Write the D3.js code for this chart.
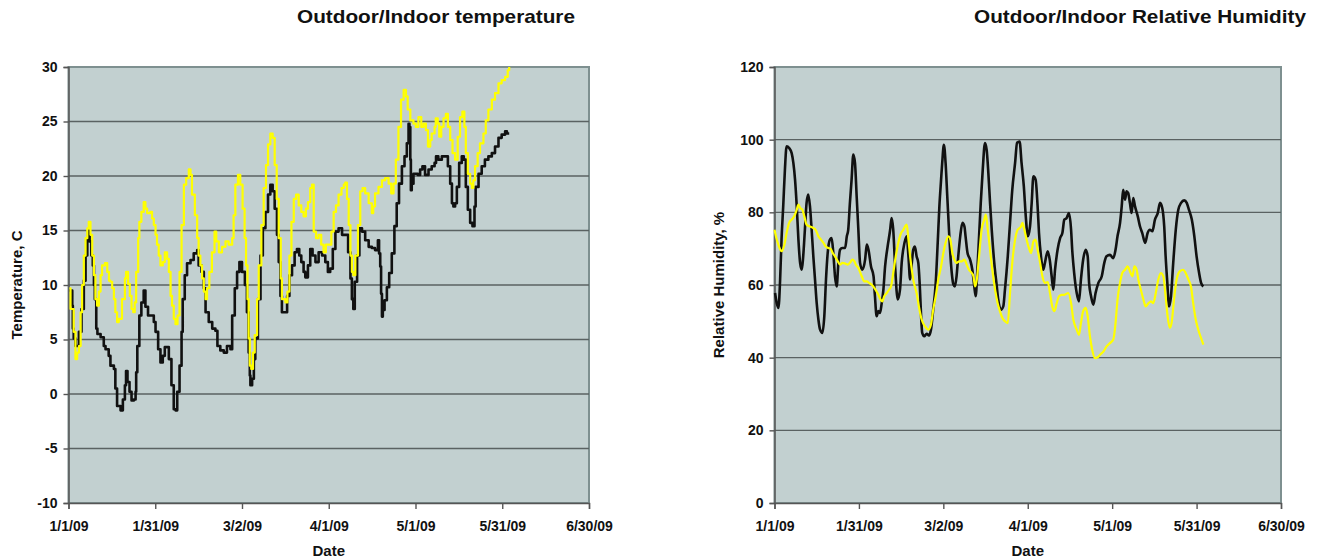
<!DOCTYPE html>
<html>
<head>
<meta charset="utf-8">
<script src="https://cdn.jsdelivr.net/npm/d3@7"></script>
<style>
  body { margin: 0; background: #fff; }
  svg text { font-family: "Liberation Sans", Arial, sans-serif; font-weight: bold; fill: #111; }
</style>
</head>
<body>
<script>
const [W, H] = [1319, 560];

// x ticks: days since 1/1/09
const dateTicks = [0, 30, 60, 90, 120, 150, 180];
const dateLabels = ['1/1/09', '1/31/09', '3/2/09', '4/1/09', '5/1/09', '5/31/09', '6/30/09'];
const tempTicks = [-10, -5, 0, 5, 10, 15, 20, 25, 30];
const rhTicks = [0, 20, 40, 60, 80, 100, 120];

// [day, value]
const tempOutdoor = [[0.3,9.5],[1.3,8.1],[1.5,6.0],[1.8,5.1],[2.4,4.4],[3.0,4.4],[3.6,5.7],[4.5,7.8],[5.3,10.4],[5.9,12.7],[6.5,14.3],[6.8,15.0],[7.3,14.0],[7.9,12.7],[8.4,11.8],[8.8,10.0],[9.1,8.7],[9.6,6.0],[10.0,5.5],[11.1,5.2],[12.2,4.4],[12.8,4.1],[13.9,3.5],[14.5,2.6],[15.7,2.3],[16.2,0.5],[16.8,-1.1],[18.0,-1.5],[18.8,-0.5],[19.5,0.8],[19.9,2.1],[20.4,1.1],[21.1,0.2],[21.8,-0.6],[22.6,-0.5],[23.2,0.2],[23.4,2.0],[23.8,4.4],[24.5,7.2],[25.2,8.4],[26.0,9.5],[26.6,8.0],[27.5,7.2],[28.7,7.2],[29.5,6.6],[30.1,5.7],[31.0,4.1],[31.8,2.9],[32.6,3.5],[33.3,4.3],[34.1,4.3],[34.7,3.2],[35.6,0.8],[36.4,-1.4],[37.0,-1.5],[37.6,0.2],[38.4,2.6],[39.1,5.7],[39.5,8.7],[40.2,10.9],[41.0,12.0],[42.2,12.3],[43.3,12.9],[44.5,13.2],[45.0,11.8],[46.0,11.2],[46.8,9.7],[47.4,7.5],[48.5,6.6],[49.7,6.0],[50.8,5.8],[51.5,4.4],[52.5,4.0],[53.7,3.8],[54.8,4.4],[56.0,4.1],[56.6,7.2],[57.5,9.7],[58.3,11.2],[59.1,12.1],[60.0,11.2],[61.0,10.0],[61.7,7.5],[62.3,3.8],[62.7,1.7],[62.9,0.8],[63.5,1.4],[64.1,3.2],[64.6,5.1],[65.5,8.7],[66.4,12.7],[67.2,15.2],[68.1,16.7],[69.0,18.3],[69.8,19.2],[70.6,18.6],[71.3,17.0],[72.1,14.6],[72.7,12.1],[73.3,9.0],[73.8,7.5],[74.8,7.5],[75.6,9.0],[76.4,10.9],[77.3,11.8],[78.2,13.0],[79.0,13.3],[79.8,12.7],[80.5,12.1],[81.3,11.2],[81.9,10.7],[82.8,11.8],[83.6,13.3],[84.4,12.7],[85.4,12.1],[86.5,13.0],[87.7,12.7],[88.8,12.1],[89.7,11.2],[90.5,11.5],[91.4,13.3],[92.3,14.9],[93.4,15.2],[94.6,14.6],[95.7,14.6],[96.7,13.0],[97.5,10.6],[98.0,8.7],[98.5,7.8],[99.0,10.3],[99.8,12.7],[100.6,15.2],[101.5,14.9],[102.6,14.1],[103.8,13.5],[104.9,13.4],[106.0,13.2],[107.0,14.1],[107.4,12.9],[107.8,11.7],[108.1,9.2],[108.4,7.1],[108.7,7.7],[109.3,8.6],[110.1,9.8],[110.9,11.1],[111.8,12.9],[112.7,15.4],[113.5,17.5],[114.3,19.3],[115.3,20.9],[116.2,21.8],[117.0,23.0],[117.6,24.8],[117.9,24.5],[118.2,21.5],[118.4,18.7],[118.7,19.3],[119.3,20.2],[120.8,20.1],[121.6,20.6],[122.4,20.9],[123.3,20.1],[124.5,20.6],[125.6,20.9],[126.6,21.2],[127.1,21.8],[127.9,21.5],[129.1,21.8],[130.2,21.8],[131.2,20.9],[132.0,19.3],[132.6,17.5],[133.1,17.2],[133.7,17.5],[134.3,19.0],[135.1,21.2],[136.0,21.8],[136.7,21.5],[137.4,19.0],[138.1,16.9],[138.9,15.7],[139.7,15.4],[140.4,17.2],[140.8,19.0],[141.8,20.2],[142.9,20.9],[144.0,21.5],[145.2,21.8],[146.4,22.1],[147.5,22.7],[148.7,23.5],[149.8,23.8],[151.0,24.1],[151.6,23.9],[152.4,23.9]];

const tempIndoor = [[0.3,9.7],[0.7,7.8],[1.8,5.7],[2.4,3.2],[3.0,3.8],[3.6,4.4],[4.2,7.5],[4.7,10.0],[5.3,12.7],[5.9,14.3],[6.5,15.2],[7.0,15.8],[7.6,14.6],[8.2,12.7],[8.8,10.9],[9.3,8.7],[9.9,8.1],[10.5,9.4],[11.1,10.9],[11.6,11.8],[12.6,12.0],[13.4,11.2],[14.0,10.4],[14.5,10.3],[15.1,9.7],[15.7,8.7],[16.2,7.5],[16.8,6.6],[17.4,6.9],[18.5,8.7],[19.5,10.6],[19.9,11.2],[20.6,10.1],[21.2,9.0],[21.8,7.8],[22.4,7.5],[22.9,8.4],[23.4,11.2],[24.1,14.3],[24.5,15.8],[25.2,16.7],[26.0,17.6],[26.6,17.0],[27.2,16.6],[27.8,16.6],[28.3,16.7],[28.9,16.1],[29.5,15.5],[30.1,14.6],[30.6,13.7],[31.2,12.7],[31.8,11.8],[32.6,12.1],[33.3,13.0],[34.1,12.4],[34.7,11.2],[35.3,9.0],[35.8,8.1],[36.4,6.9],[37.0,6.4],[37.7,7.2],[38.4,11.2],[39.1,15.5],[39.9,19.2],[40.7,19.8],[41.6,20.6],[42.2,20.1],[42.7,18.3],[43.7,16.4],[44.5,14.3],[45.0,12.7],[45.6,11.8],[46.2,10.6],[46.8,9.4],[47.4,8.7],[47.9,9.7],[48.7,11.2],[49.6,13.0],[50.5,14.9],[51.1,14.0],[52.0,13.0],[53.1,13.5],[54.3,14.0],[55.4,13.7],[56.6,14.3],[57.1,16.4],[57.7,19.2],[58.6,20.1],[59.4,19.2],[60.2,17.0],[60.9,14.3],[61.4,11.8],[61.9,8.7],[62.3,5.1],[62.7,2.6],[63.2,2.3],[63.8,3.8],[64.4,5.4],[65.2,8.7],[65.8,11.8],[66.7,15.5],[67.5,18.9],[68.3,21.0],[69.0,22.9],[69.8,23.9],[70.6,23.5],[71.3,21.0],[72.0,17.9],[72.7,14.3],[73.4,10.6],[73.8,8.7],[75.0,8.4],[75.7,9.4],[76.4,12.7],[77.1,15.8],[77.9,17.9],[78.7,18.3],[79.6,17.3],[80.5,16.7],[81.3,16.3],[82.1,17.0],[82.8,17.6],[83.6,18.9],[84.2,19.2],[84.8,14.9],[85.6,14.3],[86.5,14.6],[87.4,13.7],[88.2,13.0],[89.0,13.7],[89.9,13.7],[90.9,14.9],[91.7,16.7],[92.5,17.3],[93.4,18.3],[94.4,18.9],[95.2,19.2],[95.7,19.4],[96.3,17.9],[96.9,15.5],[97.5,12.7],[98.0,11.2],[98.5,10.9],[99.2,12.7],[100.1,15.5],[100.9,18.6],[101.7,18.9],[102.6,18.4],[103.8,17.5],[104.9,16.6],[105.4,17.2],[106.0,18.4],[107.2,19.0],[108.4,19.6],[109.5,19.8],[110.7,19.3],[111.6,18.4],[112.4,19.3],[113.2,21.5],[114.1,24.5],[115.0,27.0],[115.9,27.9],[116.7,27.3],[117.3,26.1],[118.2,25.1],[119.3,24.8],[120.1,24.5],[121.0,25.4],[122.0,24.5],[122.8,24.8],[123.6,24.2],[124.3,22.7],[125.1,23.3],[125.6,23.9],[126.6,24.5],[127.0,25.3],[127.7,24.8],[128.2,23.6],[128.9,24.5],[129.7,25.3],[130.5,25.7],[131.2,24.5],[132.0,23.3],[132.8,22.1],[133.7,21.5],[134.6,23.6],[135.4,25.4],[136.2,25.9],[136.9,24.5],[137.4,22.1],[138.1,20.2],[138.9,19.3],[139.5,18.9],[140.0,19.6],[140.6,20.9],[141.5,22.1],[142.3,23.0],[143.5,23.9],[144.3,25.1],[145.2,26.1],[146.4,27.0],[147.5,27.6],[148.7,28.5],[149.8,28.8],[151.0,29.1],[151.9,29.7],[152.4,30.0]];

const rhOutdoor = [[0.2,57.8],[0.8,55.0],[1.4,53.7],[2.0,61.5],[2.5,72.5],[3.1,81.7],[3.7,91.7],[4.3,98.2],[5.2,97.7],[6.1,96.3],[6.7,93.6],[7.3,89.0],[7.9,81.7],[8.5,72.5],[9.1,66.1],[9.7,64.2],[10.2,67.9],[10.8,75.2],[11.4,82.6],[12.0,84.9],[12.6,81.7],[13.2,75.2],[13.8,67.9],[14.4,61.5],[15.0,55.0],[15.6,50.5],[16.2,47.7],[17.0,46.8],[17.7,51.4],[18.3,61.5],[18.9,68.8],[19.7,72.5],[20.3,72.9],[20.9,68.8],[21.5,62.4],[22.1,59.6],[22.7,66.1],[23.3,69.7],[24.1,70.2],[25.1,70.2],[25.7,73.4],[26.2,75.2],[26.8,82.6],[27.4,89.0],[28.0,95.9],[28.6,93.6],[29.2,84.4],[29.8,75.2],[30.4,66.1],[31.2,64.2],[32.2,67.0],[32.8,71.1],[33.4,69.7],[34.3,65.1],[35.2,62.4],[35.7,56.9],[36.3,51.4],[36.9,52.8],[37.5,52.3],[38.1,55.0],[38.7,58.7],[39.3,65.1],[40.2,70.6],[41.1,75.2],[41.6,78.4],[42.2,75.2],[42.8,66.1],[43.8,56.0],[44.6,58.7],[45.2,66.1],[46.2,71.6],[47.0,73.4],[47.6,67.9],[48.2,61.5],[48.8,66.1],[49.3,69.7],[49.9,70.6],[50.5,67.9],[51.1,66.1],[51.7,58.7],[52.1,51.4],[52.5,46.8],[53.2,45.9],[54.1,46.6],[54.9,46.1],[55.6,47.7],[56.4,53.2],[57.3,60.6],[58.0,71.6],[58.6,81.7],[59.2,89.0],[59.6,93.6],[60.2,98.6],[60.8,93.6],[61.4,84.4],[62.0,75.2],[62.7,66.1],[63.6,60.1],[64.1,59.6],[64.7,62.4],[65.3,67.9],[66.0,73.4],[66.8,77.1],[67.5,76.1],[67.9,73.4],[68.6,68.8],[69.5,67.0],[70.3,64.2],[71.0,59.6],[71.5,56.9],[72.1,64.2],[72.7,73.4],[73.3,82.6],[74.0,91.7],[74.8,99.1],[75.4,97.2],[76.0,90.8],[76.6,82.6],[77.2,75.2],[78.1,66.1],[79.0,59.6],[79.5,56.0],[80.5,53.2],[81.3,54.1],[81.9,58.7],[82.9,67.9],[83.7,77.1],[84.5,86.2],[85.5,93.6],[86.2,99.1],[87.1,99.5],[87.8,93.6],[88.6,87.2],[89.3,78.9],[90.0,73.4],[90.8,76.1],[91.4,82.6],[92.0,89.9],[92.8,89.0],[93.5,81.7],[94.0,74.3],[94.7,67.9],[95.5,64.2],[96.1,66.1],[97.1,69.3],[97.8,67.0],[98.5,62.4],[99.1,58.7],[99.7,64.2],[100.6,69.7],[101.5,72.9],[102.3,74.3],[103.0,78.0],[103.8,78.4],[104.6,79.8],[105.4,75.2],[105.8,69.7],[106.5,63.3],[107.4,57.8],[108.2,55.5],[108.9,61.5],[109.7,67.0],[110.6,69.7],[111.3,67.9],[111.8,60.6],[112.5,56.9],[113.3,54.6],[114.1,57.8],[115.1,60.6],[116.3,62.4],[117.2,66.1],[118.0,67.9],[119.2,68.3],[120.4,67.4],[121.2,69.7],[121.9,73.4],[122.8,77.1],[123.4,81.7],[123.9,86.2],[124.6,83.5],[125.1,85.8],[125.7,85.3],[126.3,82.6],[126.9,79.8],[127.5,83.9],[128.1,81.7],[129.1,78.9],[129.9,76.1],[130.7,74.3],[131.7,71.6],[132.6,74.3],[133.4,75.2],[134.3,74.8],[135.2,78.0],[136.2,79.8],[137.0,82.6],[137.8,81.2],[138.5,76.1],[139.0,67.9],[139.6,60.6],[140.2,54.1],[140.9,56.9],[141.7,66.1],[142.6,75.2],[143.5,80.7],[144.5,82.6],[145.6,83.3],[146.5,82.6],[147.3,80.7],[148.3,78.0],[149.2,73.4],[150.0,67.9],[150.9,63.3],[151.6,60.6],[152.4,59.6]];

const rhIndoor = [[0,75.2],[0.8,72.5],[1.6,70.6],[2.5,69.3],[3.5,71.1],[4.3,74.3],[5.2,77.1],[6.1,78.0],[7.0,78.9],[7.9,80.7],[8.5,82.1],[9.1,81.2],[9.9,80.7],[10.6,78.9],[11.4,76.6],[12.6,76.1],[13.8,75.7],[14.6,75.2],[15.6,73.4],[16.5,72.5],[17.4,71.6],[18.2,70.6],[19.1,70.2],[20.0,69.9],[20.7,68.8],[21.5,67.9],[22.5,66.5],[23.3,65.6],[24.1,66.1],[25.1,65.9],[26.0,65.6],[26.8,66.1],[27.7,67.0],[28.4,66.5],[28.9,65.6],[29.8,64.7],[31.0,62.4],[31.9,61.0],[32.8,61.0],[33.6,60.6],[34.5,60.1],[35.1,59.6],[35.9,58.7],[36.9,57.3],[37.7,56.0],[38.3,55.5],[39.0,56.9],[39.9,57.8],[40.7,58.7],[41.4,59.6],[42.2,63.3],[43.1,67.9],[44.0,71.6],[45.0,74.3],[45.8,75.2],[46.4,76.1],[47.0,76.6],[47.6,72.5],[48.2,67.9],[48.8,64.2],[49.3,61.5],[49.9,59.5],[50.5,57.8],[51.3,54.1],[52.3,50.5],[53.5,48.6],[54.7,47.7],[55.6,49.1],[56.4,53.2],[57.3,56.9],[58.2,61.5],[59.2,65.1],[60.0,68.8],[60.8,71.6],[61.8,73.4],[62.5,72.5],[63.2,68.8],[63.9,67.0],[64.7,66.1],[65.6,66.5],[66.5,66.5],[67.5,67.0],[68.3,65.6],[69.1,64.2],[70.1,63.3],[70.7,62.4],[71.3,59.6],[71.9,61.5],[72.7,67.9],[73.6,75.2],[74.5,77.9],[75.1,79.4],[75.8,75.2],[76.6,69.7],[77.4,64.2],[78.4,58.7],[79.3,55.0],[80.1,52.8],[81.0,50.9],[81.9,50.0],[82.9,49.5],[83.7,57.8],[84.5,66.1],[85.5,72.5],[86.4,75.2],[87.6,76.1],[88.1,77.1],[88.8,75.2],[89.6,72.5],[90.4,70.2],[91.2,68.8],[92.0,72.0],[92.8,72.5],[93.5,69.7],[94.4,66.1],[95.2,62.4],[96.1,60.6],[97.1,60.8],[97.9,57.8],[98.7,54.1],[99.5,52.8],[100.3,55.0],[101.1,56.9],[102.1,57.3],[103.0,57.3],[104.4,57.8],[105.4,55.0],[106.2,50.5],[107.4,47.7],[108.2,46.3],[108.9,49.5],[109.7,52.8],[110.6,53.7],[111.3,51.4],[112.1,45.9],[112.9,42.2],[113.9,39.9],[114.8,40.1],[115.7,40.8],[116.9,41.7],[118.0,43.1],[119.2,44.0],[120.4,45.0],[121.2,49.5],[121.9,56.0],[122.8,60.6],[123.6,63.3],[124.6,64.2],[125.5,65.1],[126.3,63.8],[127.2,62.4],[127.9,65.1],[128.7,64.2],[129.3,61.5],[130.2,58.7],[131.1,56.0],[131.9,54.1],[132.9,55.0],[133.8,55.5],[134.6,55.0],[135.5,57.8],[136.4,61.5],[137.3,63.3],[138.2,62.4],[139.0,56.9],[139.7,51.4],[140.5,48.2],[141.1,49.5],[142.1,56.9],[142.9,61.5],[144.1,63.8],[145.3,64.2],[146.1,63.3],[147.1,61.5],[148.0,59.6],[148.8,55.0],[149.7,50.5],[150.6,47.7],[151.6,45.4],[152.4,43.6]];

const svg = d3.select('body').append('svg').attr('width', W).attr('height', H);

function drawChart(opt) {
    const x = d3.scaleLinear().domain([0, 180]).range([opt.left, opt.right]);
    const y = d3.scaleLinear().domain(opt.yDomain).range([503, 67]);
    const g = svg.append('g');

    // plot area
    g.append('rect')
        .attr('x', opt.left).attr('y', 67)
        .attr('width', opt.right - opt.left).attr('height', 503 - 67)
        .attr('fill', '#c2d0d0')
        .attr('stroke', '#7e9090').attr('stroke-width', 2);

    // gridlines
    g.selectAll('.grid')
        .data(opt.yTicks.slice(1, -1)).enter()
        .append('line')
        .attr('x1', opt.left).attr('x2', opt.right)
        .attr('y1', d => y(d)).attr('y2', d => y(d))
        .attr('stroke', '#5a6262').attr('stroke-width', 1.3);

    // axes (plain hyphen for negatives, like the original)
    const yAxis = g.append('g')
        .attr('transform', 'translate(' + opt.left + ',0)')
        .call(d3.axisLeft(y).tickValues(opt.yTicks).tickSize(5).tickPadding(6)
            .tickFormat(d => String(d)));
    const xAxis = g.append('g')
        .attr('transform', 'translate(0,503)')
        .call(d3.axisBottom(x).tickValues(dateTicks).tickSize(6).tickPadding(12)
            .tickFormat((d, i) => dateLabels[i]));
    [yAxis, xAxis].forEach(a => {
        a.selectAll('path, line').attr('stroke', '#555').attr('stroke-width', 1.4);
        a.selectAll('text').style('font-size', '14px').attr('fill', '#111');
    });

    // lines
    const line = d3.line()
        .x(d => x(d[0])).y(d => y(d[1]))
        .curve(opt.curve);
    g.append('path').datum(opt.outdoor)
        .attr('d', line).attr('fill', 'none')
        .attr('stroke', '#111').attr('stroke-width', 2.6).attr('stroke-linejoin', 'round');
    g.append('path').datum(opt.indoor)
        .attr('d', line).attr('fill', 'none')
        .attr('stroke', '#ffff00').attr('stroke-width', 2.2).attr('stroke-linejoin', 'round');

    // titles
    g.append('text')
        .attr('x', opt.titleX).attr('y', 23)
        .attr('text-anchor', 'middle')
        .attr('textLength', opt.titleW).attr('lengthAdjust', 'spacingAndGlyphs')
        .style('font-size', '19px')
        .text(opt.title);
    g.append('text')
        .attr('x', (opt.left + opt.right) / 2).attr('y', 556)
        .attr('text-anchor', 'middle')
        .style('font-size', '15px')
        .text('Date');
    g.append('text')
        .attr('transform', 'translate(' + opt.yTitleX + ',285) rotate(-90)')
        .attr('text-anchor', 'middle')
        .attr('dy', '0.35em')
        .style('font-size', '15px')
        .text(opt.yTitle);
}

drawChart({
    left: 68.5, right: 589, yDomain: [-10, 30], yTicks: tempTicks,
    outdoor: tempOutdoor, indoor: tempIndoor, curve: d3.curveStepAfter,
    title: 'Outdoor/Indoor temperature', titleX: 436, titleW: 278,
    yTitle: 'Temperature, C', yTitleX: 17
});

drawChart({
    left: 774.5, right: 1281, yDomain: [0, 120], yTicks: rhTicks,
    outdoor: rhOutdoor, indoor: rhIndoor, curve: d3.curveMonotoneX,
    title: 'Outdoor/Indoor Relative Humidity', titleX: 1140, titleW: 332,
    yTitle: 'Relative Humidity, %', yTitleX: 719
});
</script>
</body>
</html>
